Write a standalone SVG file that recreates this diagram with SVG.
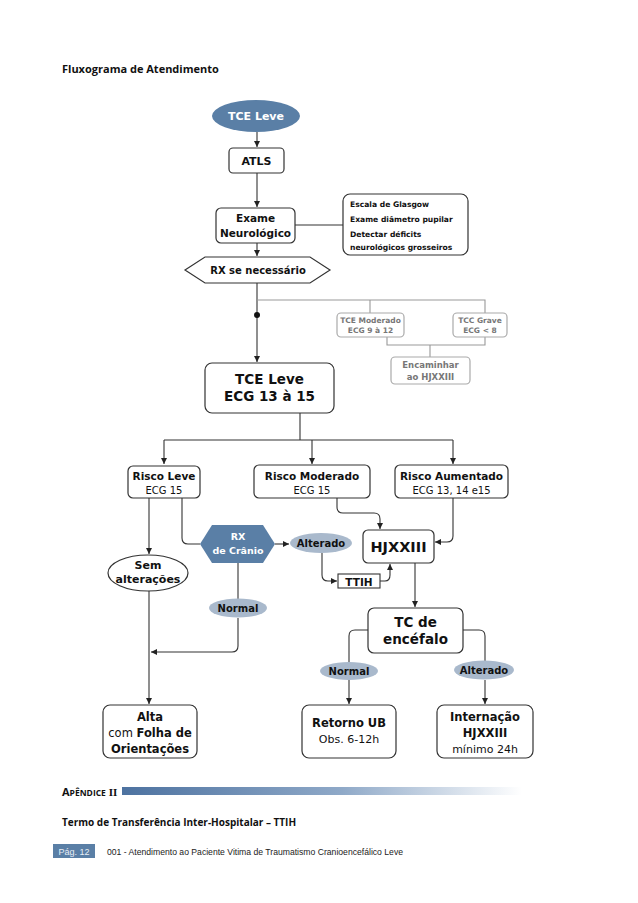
<svg xmlns="http://www.w3.org/2000/svg" width="638" height="903" viewBox="0 0 638 903">
<defs>
<marker id="ah" markerWidth="7" markerHeight="7" refX="6" refY="3" orient="auto" markerUnits="userSpaceOnUse"><path d="M0,0 L6,3 L0,6 z" fill="#222"/></marker>
<linearGradient id="bar" x1="0" y1="0" x2="1" y2="0"><stop offset="0" stop-color="#4d72a0"/><stop offset="0.55" stop-color="#8fa9c8"/><stop offset="1" stop-color="#ffffff"/></linearGradient>
<style>
.box{fill:#fff;stroke:#333;stroke-width:1.2}
.gbox{fill:#fff;stroke:#aaa;stroke-width:1.2}
.dark{fill:#5a7fa6}
.light{fill:#a9b9cc}
.t{font-family:"DejaVu Sans",Verdana,sans-serif;font-weight:bold;fill:#111;text-anchor:middle}
.n{font-family:"DejaVu Sans",Verdana,sans-serif;font-weight:normal;fill:#111;text-anchor:middle}
.w{fill:#fff}
.g{fill:#777}
.c{fill:none;stroke:#333;stroke-width:1.1}
.gc{fill:none;stroke:#999;stroke-width:1.1}
.p{font-family:"Open Sans","Noto Sans",sans-serif;font-weight:bold;fill:#111}
</style>
</defs>
<rect width="638" height="903" fill="#fff"/>
<text class="p" x="62" y="73" font-size="11">Fluxograma de Atendimento</text>

<g id="connectors">
<path class="c" d="M257,132 V147" marker-end="url(#ah)"/>
<path class="c" d="M257,173 V207" marker-end="url(#ah)"/>
<path class="c" d="M295,225 H343"/>
<path class="c" d="M257,243 V256" marker-end="url(#ah)"/>
<path class="c" d="M257,283 V362" marker-end="url(#ah)"/>
<circle cx="257" cy="315" r="3" fill="#111"/>
<path class="gc" d="M257,300 H485 V313 M370,300 V313"/>
<path class="gc" d="M387,337 V345 H485 V337 M430,345 V357"/>
<path class="c" d="M300,413 V440 M164,440 H453"/>
<path class="c" d="M164,440 V464" marker-end="url(#ah)"/>
<path class="c" d="M312,440 V464" marker-end="url(#ah)"/>
<path class="c" d="M453,440 V464" marker-end="url(#ah)"/>
<path class="c" d="M149,498 V554" marker-end="url(#ah)"/>
<path class="c" d="M182,498 V538 Q182,544 188,544 H200"/>
<path class="c" d="M275,544 H289" marker-end="url(#ah)"/>
<path class="c" d="M322,553 V575 Q322,581 328,581 H337" marker-end="url(#ah)"/>
<path class="c" d="M380,581 H385 Q390,581 390,575 V564" marker-end="url(#ah)"/>
<path class="c" d="M337,498 V507 Q337,513 343,513 H374 Q380,513 380,519 V529" marker-end="url(#ah)"/>
<path class="c" d="M453,498 V536 Q453,542 447,542 H435" marker-end="url(#ah)"/>
<path class="c" d="M415,563 V607" marker-end="url(#ah)"/>
<path class="c" d="M368,630 H355 Q349,630 349,636 V662"/>
<path class="c" d="M463,630 H479 Q485,630 485,636 V661"/>
<path class="c" d="M349,680 V704" marker-end="url(#ah)"/>
<path class="c" d="M485,680 V704" marker-end="url(#ah)"/>
<path class="c" d="M149,591 V704" marker-end="url(#ah)"/>
<path class="c" d="M238,563 V599"/>
<path class="c" d="M238,618 V646 Q238,652 232,652 H151" marker-end="url(#ah)"/>
</g>

<g id="n-tce-leve-start"><ellipse class="dark" cx="256" cy="116" rx="44" ry="16"/><text class="t w" x="256" y="120" font-size="11">TCE Leve</text></g>
<g id="n-atls"><rect class="box" x="229" y="148" width="55" height="25" rx="4"/><text class="t" x="256.5" y="165" font-size="11">ATLS</text></g>
<g id="n-exame"><rect class="box" x="216" y="208" width="79" height="35" rx="5"/><text class="t" x="255.5" y="222" font-size="10.5">Exame</text><text class="t" x="255.5" y="237" font-size="10.5">Neurológico</text></g>
<g id="n-info"><rect class="box" x="343" y="194" width="125" height="61" rx="7"/>
<text class="t" x="350" y="207" font-size="7.6" style="text-anchor:start">Escala de Glasgow</text>
<text class="t" x="350" y="222" font-size="7.6" style="text-anchor:start">Exame diâmetro pupilar</text>
<text class="t" x="350" y="237" font-size="7.6" style="text-anchor:start">Detectar déficits</text>
<text class="t" x="350" y="250" font-size="7.6" style="text-anchor:start">neurológicos grosseiros</text></g>
<g id="n-rx-sn"><polygon class="box" points="185,270 205,257 310,257 330,270 310,283 205,283"/><text class="t" x="258" y="274" font-size="10">RX se necessário</text></g>
<g id="n-tce-mod"><rect class="gbox" x="337" y="313" width="67" height="24" rx="4"/><text class="t g" x="370.5" y="323" font-size="7.5">TCE Moderado</text><text class="t g" x="370.5" y="333" font-size="7.5">ECG 9 à 12</text></g>
<g id="n-tcc-grave"><rect class="gbox" x="453" y="313" width="54" height="24" rx="4"/><text class="t g" x="480" y="323" font-size="7.5">TCC Grave</text><text class="t g" x="480" y="333" font-size="7.5">ECG &lt; 8</text></g>
<g id="n-encaminhar"><rect class="gbox" x="391" y="357" width="79" height="27" rx="4"/><text class="t g" x="430.5" y="368" font-size="8.5">Encaminhar</text><text class="t g" x="430.5" y="380" font-size="8.5">ao HJXXIII</text></g>
<g id="n-tce-leve-ecg"><rect class="box" x="205" y="363" width="129" height="50" rx="7"/><text class="t" x="269.5" y="384" font-size="13.5">TCE Leve</text><text class="t" x="269.5" y="401" font-size="13.5">ECG 13 à 15</text></g>
<g id="n-risco-leve"><rect class="box" x="128" y="466" width="72" height="32" rx="5"/><text class="t" x="164" y="480" font-size="10.5">Risco Leve</text><text class="n" x="164" y="494" font-size="10">ECG 15</text></g>
<g id="n-risco-mod"><rect class="box" x="254" y="465" width="116" height="33" rx="5"/><text class="t" x="312" y="480" font-size="10.5">Risco Moderado</text><text class="n" x="312" y="494" font-size="10">ECG 15</text></g>
<g id="n-risco-aum"><rect class="box" x="395" y="465" width="113" height="33" rx="5"/><text class="t" x="451.5" y="480" font-size="10.5">Risco Aumentado</text><text class="n" x="451.5" y="494" font-size="10">ECG 13, 14 e15</text></g>
<g id="n-rx-cranio"><polygon class="dark" points="200,544 212,525 263,525 275,544 263,563 212,563"/><text class="t w" x="238" y="540" font-size="9.5">RX</text><text class="t w" x="238" y="554" font-size="9.5">de Crânio</text></g>
<g id="n-alterado1"><ellipse class="light" cx="321" cy="543" rx="31" ry="10"/><text class="t" x="321" y="547" font-size="10">Alterado</text></g>
<g id="n-ttih"><rect x="338" y="574" width="42" height="14" fill="#fff" stroke="#333" stroke-width="1.1"/><text class="t" x="359" y="585.5" font-size="10.5">TTIH</text></g>
<g id="n-hjxxiii"><rect class="box" x="363" y="530" width="71" height="33" rx="5"/><text class="t" x="398.5" y="552" font-size="14.5">HJXXIII</text></g>
<g id="n-sem"><ellipse class="box" cx="148" cy="573" rx="40" ry="18"/><text class="t" x="148" y="569" font-size="11">Sem</text><text class="t" x="148" y="583" font-size="11">alterações</text></g>
<g id="n-normal1"><ellipse class="light" cx="238" cy="608" rx="29" ry="9.5"/><text class="t" x="238" y="612" font-size="10">Normal</text></g>
<g id="n-tc"><rect class="box" x="368" y="608" width="95" height="45" rx="6"/><text class="t" x="415.5" y="627" font-size="13.5">TC de</text><text class="t" x="415.5" y="644" font-size="13.5">encéfalo</text></g>
<g id="n-normal2"><ellipse class="light" cx="349" cy="671" rx="29" ry="9"/><text class="t" x="349" y="675" font-size="10">Normal</text></g>
<g id="n-alterado2"><ellipse class="light" cx="484" cy="670" rx="30" ry="9.5"/><text class="t" x="484" y="674" font-size="10">Alterado</text></g>
<g id="n-alta"><rect class="box" x="103" y="705" width="94" height="53" rx="7"/><text class="t" x="150" y="721" font-size="11.5">Alta</text><text class="t" x="150" y="737" font-size="11.5"><tspan font-weight="normal">com </tspan>Folha de</text><text class="t" x="150" y="753" font-size="11.5">Orientações</text></g>
<g id="n-retorno"><rect class="box" x="302" y="705" width="94" height="53" rx="7"/><text class="t" x="349" y="727" font-size="11.5">Retorno UB</text><text class="n" x="349" y="743" font-size="11">Obs. 6-12h</text></g>
<g id="n-internacao"><rect class="box" x="437" y="705" width="96" height="53" rx="7"/><text class="t" x="485" y="721" font-size="11.5">Internação</text><text class="t" x="485" y="737" font-size="11.5">HJXXIII</text><text class="n" x="485" y="753" font-size="11">mínimo 24h</text></g>

<text class="p" x="62" y="796" font-size="11">A<tspan font-size="8.5">PÊNDICE</tspan> <tspan font-family="'Liberation Serif',serif">II</tspan></text>
<rect x="122" y="787" width="400" height="8" fill="url(#bar)"/>
<text class="p" x="62" y="826" font-size="10">Termo de Transferência Inter-Hospitalar – TTIH</text>
<rect x="53" y="844" width="42" height="14" fill="#5a7fa6"/>
<text x="74" y="855" font-family="'Liberation Sans',sans-serif" font-size="9" fill="#e8eef5" text-anchor="middle">Pág. 12</text>
<text x="107" y="855" font-family="'Liberation Sans',sans-serif" font-size="9" fill="#222" textLength="296" lengthAdjust="spacingAndGlyphs">001 - Atendimento ao Paciente Vitima de Traumatismo Cranioencefálico Leve</text>
</svg>
